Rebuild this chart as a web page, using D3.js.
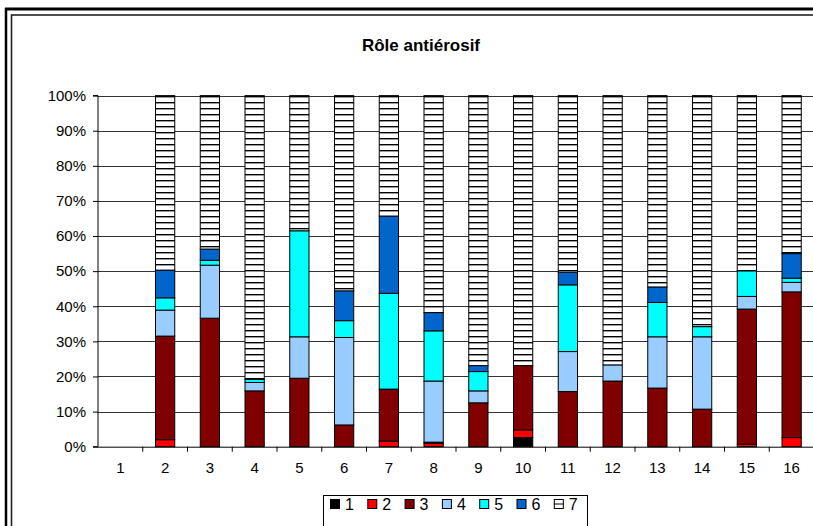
<!DOCTYPE html>
<html><head><meta charset="utf-8">
<script src="https://cdn.jsdelivr.net/npm/d3@7"></script>
<style>html,body{margin:0;padding:0;background:#fff;overflow:hidden}text{font-family:"Liberation Sans",Arial,sans-serif}</style>
</head><body>
<svg id="c" width="813" height="526"></svg>
<script>
const categories = ['1','2','3','4','5','6','7','8','9','10','11','12','13','14','15','16'];
const seriesNames = ['1','2','3','4','5','6','7'];
const s1 = [0,0,0,0,0,0,0,0,0,2.6,0,0,0,0,0,0];
const s2 = [0,2.0,0,0,0,0,1.6,1.0,0,2.2,0,0,0,0,0.7,2.6];
const s3 = [0,29.5,36.6,15.9,19.5,6.2,14.8,0.3,12.5,18.3,15.7,18.7,16.7,10.7,38.5,41.5];
const s4 = [0,7.4,15.1,2.4,11.8,24.9,0,17.4,3.4,0,11.4,4.6,14.6,20.6,3.6,2.7];
const s5 = [0,3.5,1.4,0.9,30.2,4.8,27.3,14.3,5.5,0,19.0,0,9.8,2.9,7.3,1.2];
const s6 = [0,7.9,3.2,0,0,8.5,22.0,5.2,1.7,0,3.6,0,4.4,0,0,7.0];
const s7 = [0,49.7,43.7,80.8,38.5,55.6,34.3,61.8,76.9,76.9,50.3,76.7,54.5,65.8,49.9,45.0];
const yTicks = [0,10,20,30,40,50,60,70,80,90,100];
const title = 'Rôle antiérosif';
const colors = ['#000000','#FF0000','#800000','#99CCFF','#00FFFF','#0066CC','url(#hstripe)'];

const allSeries = [s1,s2,s3,s4,s5,s6,s7];
const rows = categories.map((c,i)=>{const r={cat:c}; seriesNames.forEach((k,j)=>r[k]=allSeries[j][i]); return r;});

const svg = d3.select('#c');
const defs = svg.append('defs');
const pat = defs.append('pattern').attr('id','hstripe').attr('patternUnits','userSpaceOnUse')
  .attr('width',8).attr('height',6);
pat.append('rect').attr('width',8).attr('height',6).attr('fill','#fff');
pat.append('rect').attr('y',0).attr('width',8).attr('height',1.4).attr('fill','#000');

// frame
svg.append('line').attr('x1',5).attr('x2',813).attr('y1',9).attr('y2',9).attr('stroke','#000').attr('stroke-width',3);
svg.append('line').attr('x1',6).attr('x2',6).attr('y1',8).attr('y2',526).attr('stroke','#000').attr('stroke-width',2.5);
svg.append('rect').attr('x',11.5).attr('y',15).attr('width',900).attr('height',600)
  .attr('fill','none').attr('stroke','#222').attr('stroke-width',1.6);

const L=98, R=814, T=95.6, B=446.7;
const x = d3.scaleBand().domain(categories).range([L,R]).padding(0);
const y = d3.scaleLinear().domain([0,100]).range([B,T]);
const barW = x.bandwidth()*0.43;

// title
svg.append('text').attr('x',421).attr('y',51).attr('text-anchor','middle')
  .attr('font-size',17).attr('font-weight','bold').text(title);

// gridlines
svg.append('g').selectAll('line').data(yTicks.filter(d=>d>0)).join('line')
  .attr('x1',L).attr('x2',R).attr('y1',d=>Math.round(y(d))+0.5).attr('y2',d=>Math.round(y(d))+0.5)
  .attr('stroke','#333').attr('stroke-width',1);

// bars
const stack = d3.stack().keys(seriesNames);
const stacked = stack(rows);
const gBars = svg.append('g');
stacked.forEach((layer,j)=>{
  gBars.append('g').selectAll('rect').data(layer.filter(d=>d[1]-d[0]>0)).join('rect')
    .attr('x',d=>x(d.data.cat)+(x.bandwidth()-barW)/2)
    .attr('width',barW)
    .attr('y',d=>y(d[1]))
    .attr('height',d=>y(d[0])-y(d[1]))
    .attr('fill',colors[j])
    .attr('stroke','#000').attr('stroke-width',1);
});

// y axis
const yAxis = d3.axisLeft(y).tickValues(yTicks).tickFormat(d=>d+'%').tickSize(5).tickPadding(7);
const gy = svg.append('g').attr('transform',`translate(${L},0)`).call(yAxis);
gy.select('.domain').attr('stroke','#000').attr('d',`M-5,${B}H0V${T}H-5`);
gy.selectAll('.tick line').attr('stroke','#000');
gy.selectAll('text').attr('font-size',15).attr('fill','#000').style('font-family','"Liberation Sans",Arial,sans-serif');

// x axis
const xAxis = d3.axisBottom(x).tickSize(0).tickPadding(16);
const gx = svg.append('g').attr('transform',`translate(0,${B})`).call(xAxis);
gx.select('.domain').attr('stroke','#000').attr('d',`M${L},0.5H${R}`);
gx.selectAll('text').attr('font-size',15).attr('fill','#000').style('font-family','"Liberation Sans",Arial,sans-serif');
gx.append('g').selectAll('line').data(categories).join('line')
  .attr('x1',d=>x(d)+x.bandwidth()).attr('x2',d=>x(d)+x.bandwidth())
  .attr('y1',0).attr('y2',5).attr('stroke','#000');

// legend
const lg = svg.append('g');
lg.append('rect').attr('x',323.5).attr('y',495.5).attr('width',264).attr('height',40)
  .attr('fill','#fff').attr('stroke','#000').attr('stroke-width',1);
const step = 37.3;
seriesNames.forEach((k,j)=>{
  const gx0 = 330 + j*step;
  lg.append('rect').attr('x',gx0+0.5).attr('y',499.5).attr('width',9).attr('height',9)
    .attr('fill', j===6 ? '#fff' : colors[j]).attr('stroke','#000');
  if(j===6){ lg.append('line').attr('x1',gx0).attr('x2',gx0+10).attr('y1',504).attr('y2',504).attr('stroke','#000'); }
  lg.append('text').attr('x',gx0+15).attr('y',510).attr('font-size',16).text(k);
});
</script>
</body></html>
